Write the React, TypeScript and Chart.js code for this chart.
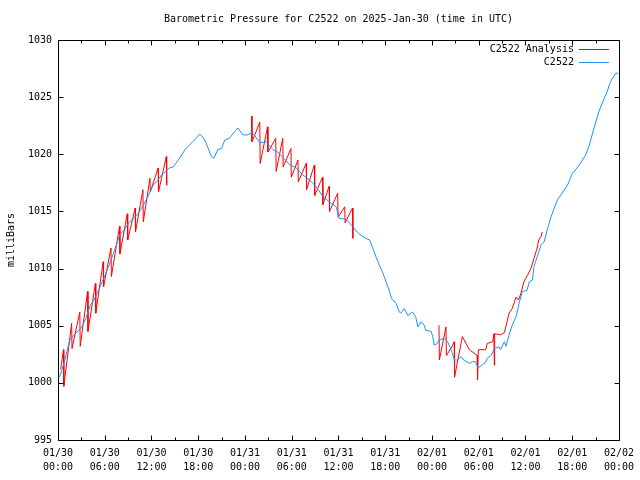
import React, { useEffect, useRef } from "react";
import { Chart, registerables } from "chart.js";

Chart.register(...registerables);

const chartTitle = "Barometric Pressure for C2522 on 2025-Jan-30 (time in UTC)";
const yAxisTitle = "milliBars";
const seriesLabels = ["C2522 Analysis", "C2522"];
const seriesColors = ["#ff0000", "#1e90ff"];

const tickDates = ["01/30", "01/30", "01/30", "01/30", "01/31", "01/31", "01/31", "01/31", "02/01", "02/01", "02/01", "02/01", "02/02"];
const tickTimes = ["00:00", "06:00", "12:00", "18:00", "00:00", "06:00", "12:00", "18:00", "00:00", "06:00", "12:00", "18:00", "00:00"];

// hours since 01/30 00:00 UTC
const stationHours = [
  0.2, 0.8, 1.5, 2.2, 3.0, 3.6, 4.1, 4.8, 5.4, 5.9, 6.4, 7.1, 7.9, 8.5, 9.2, 9.8, 10.3, 10.9, 11.4, 12.2,
  12.8, 13.3, 14.3, 14.8, 15.6, 16.3, 17.3, 18.2, 18.6, 19.0, 19.7, 20.0, 20.5, 21.0, 21.4, 22.0, 22.7, 23.1, 23.7, 24.4,
  24.9, 25.2, 25.9, 26.7, 27.2, 27.6, 28.2, 28.9, 29.7, 30.6, 31.4, 32.3, 33.1, 34.0, 34.8, 35.7, 36.1, 37.0, 37.8, 38.4,
  38.9, 39.5, 40.0, 40.4, 40.8, 41.25, 41.7, 42.1, 42.5, 42.8, 43.4, 43.8, 44.0, 44.45, 44.9, 45.5, 45.9, 46.2, 46.6, 47.0,
  47.2, 47.9, 48.1, 48.3, 48.7, 48.9, 49.6, 50.0, 50.4, 50.9, 51.3, 51.7, 52.1, 52.8, 53.2, 53.6, 53.9, 54.5, 54.9, 55.1,
  55.6, 56.0, 56.6, 56.8, 57.3, 57.5, 57.9, 58.3, 58.8, 59.2, 59.6, 60.2, 60.5, 60.9, 61.1, 61.5, 62.0, 62.4, 62.8, 63.3,
  63.7, 64.1, 64.7, 65.4, 66.0, 66.9, 67.3, 67.7, 68.2, 68.8, 69.4, 70.1, 70.5, 70.9, 71.6, 71.9,
];
const stationPressure = [
  1000.5, 1001.8, 1003.7, 1004.3, 1004.8, 1005.7, 1006.7, 1007.5, 1008.4, 1009.2, 1010.0, 1011.3, 1012.9, 1013.4, 1014.1, 1014.5, 1014.8, 1015.5, 1016.1, 1017.3,
  1017.7, 1018.2, 1018.8, 1018.9, 1019.65, 1020.4, 1021.1, 1021.75, 1021.5, 1021.0, 1019.8, 1019.65, 1020.4, 1020.5, 1021.25, 1021.4, 1022.0, 1022.3, 1021.7, 1021.7,
  1021.9, 1021.7, 1021.0, 1021.1, 1020.7, 1020.4, 1020.2, 1019.7, 1019.1, 1018.8, 1018.2, 1017.75, 1017.2, 1016.3, 1015.85, 1015.4, 1014.4, 1014.3, 1013.7, 1013.2,
  1012.9, 1012.65, 1012.5, 1011.8, 1011.05, 1010.3, 1009.6, 1008.85, 1008.1, 1007.4, 1006.95, 1006.2, 1006.1, 1006.5, 1005.9, 1006.2, 1005.8, 1004.9, 1005.35, 1005.05,
  1004.6, 1004.5, 1004.05, 1003.3, 1003.45, 1003.75, 1003.9, 1003.6, 1003.0, 1002.0, 1002.0, 1002.3, 1002.0, 1001.7, 1001.85, 1001.85, 1001.3, 1001.6, 1001.8, 1002.15,
  1002.4, 1003.0, 1003.15, 1002.9, 1003.6, 1003.2, 1004.2, 1005.05, 1005.8, 1007.0, 1008.0, 1008.1, 1008.85, 1009.0, 1010.2, 1011.0, 1012.1, 1012.35, 1013.4, 1014.55,
  1015.3, 1016.0, 1016.6, 1017.3, 1018.3, 1019.05, 1019.5, 1019.9, 1020.8, 1022.3, 1023.7, 1024.9, 1025.5, 1026.35, 1027.1, 1027.1,
];

const analysisHours = [
  0.35, 0.7, 0.75, 1.75, 1.8, 2.8, 2.85, 3.8, 3.85, 4.8, 4.85, 5.8, 5.85, 6.8, 6.85, 7.9, 7.95, 8.9, 8.95, 9.9,
  9.95, 10.9, 10.95, 11.8, 11.85, 12.85, 12.9, 13.9, 13.95,
  19.0,
  24.85, 24.9, 25.9, 25.95, 26.9, 26.95, 27.95, 28.0, 28.85, 28.9, 29.9, 29.95, 30.8, 30.85, 31.85, 31.9, 32.9, 32.95, 33.95, 34.0,
  34.8, 34.85, 35.9, 35.95, 36.8, 36.85, 37.8, 37.85,
  44.0,
  48.9, 48.95, 49.8, 49.85, 50.6, 50.85, 50.9, 51.9, 52.8, 53.8, 53.85, 53.95, 54.9, 55.1, 55.8, 55.95, 56.0, 56.05, 56.8, 57.3,
  57.9, 58.3, 58.8, 59.1, 59.4, 59.8, 60.25, 60.7, 61.1, 61.5, 61.7, 62.0, 62.15,
];
const analysisPressure = [
  1001.2, 1002.9, 999.7, 1005.2, 1003.0, 1006.2, 1003.2, 1008.0, 1004.5, 1008.7, 1006.1, 1010.6, 1008.4, 1011.8, 1009.3, 1013.7, 1011.3, 1014.8, 1012.5, 1015.3,
  1013.2, 1016.9, 1014.1, 1017.9, 1016.7, 1018.8, 1016.7, 1019.8, 1017.3,
  null,
  1023.35, 1021.1, 1022.8, 1019.2, 1022.4, 1020.2, 1021.4, 1018.5, 1021.4, 1018.9, 1020.5, 1018.0, 1019.5, 1017.6, 1019.2, 1016.9, 1019.05, 1016.4, 1018.0, 1015.6,
  1017.2, 1015.0, 1016.6, 1014.5, 1015.4, 1014.0, 1015.3, 1012.65,
  null,
  1005.05, 1002.0, 1004.9, 1002.4, 1003.2, 1003.6, 1000.5, 1004.05, 1002.9, 1002.4, 1000.25, 1002.9, 1002.9, 1003.45, 1003.6, 1004.3, 1001.55, 1004.3, 1004.2, 1004.4,
  1006.1, 1006.5, 1007.5, 1007.25, 1007.8, 1008.85, 1009.4, 1010.0, 1010.9, 1011.8, 1012.5, 1012.8, 1013.2,
];

const FONT = "DejaVu Sans Mono";

const gnuplotFrame = {
  id: "gnuplotFrame",
  afterDatasetsDraw(chart: any) {
    const { ctx, chartArea: a, scales } = chart;
    const xs = scales.x;
    const ys = scales.y;
    ctx.save();
    ctx.strokeStyle = "#000";
    ctx.lineWidth = 1;
    ctx.beginPath();
    const L = Math.round(a.left) + 0.5;
    const R = Math.round(a.right) + 0.5;
    const T = Math.round(a.top) + 0.5;
    const B = Math.round(a.bottom) + 0.5;
    ctx.moveTo(L, T);
    ctx.lineTo(R, T);
    ctx.lineTo(R, B);
    ctx.lineTo(L, B);
    ctx.closePath();
    for (let v = xs.min; v <= xs.max + 0.001; v += 3) {
      const px = Math.round(xs.getPixelForValue(v)) + 0.5;
      const len = v % 6 === 0 ? 5 : 3;
      ctx.moveTo(px, B);
      ctx.lineTo(px, B - len);
      ctx.moveTo(px, T);
      ctx.lineTo(px, T + len);
    }
    ys.ticks.forEach((t: any) => {
      const py = Math.round(ys.getPixelForValue(t.value)) + 0.5;
      ctx.moveTo(L, py);
      ctx.lineTo(L + 5, py);
      ctx.moveTo(R, py);
      ctx.lineTo(R - 5, py);
    });
    ctx.stroke();

    // title
    ctx.fillStyle = "#000";
    ctx.font = `10px "${FONT}"`;
    ctx.textAlign = "center";
    ctx.textBaseline = "middle";
    ctx.fillText(chartTitle, (a.left + a.right) / 2, 19);

    // legend (gnuplot style: text then sample line)
    const order = [1, 0];
    order.forEach((di, row) => {
      const ds = chart.data.datasets[di];
      const y = Math.round(a.top + 9 + row * 13) + 0.5;
      ctx.textAlign = "right";
      ctx.fillStyle = "#000";
      ctx.fillText(ds.label, a.right - 45, y);
      ctx.strokeStyle = ds.borderColor;
      ctx.beginPath();
      ctx.moveTo(a.right - 40, y);
      ctx.lineTo(a.right - 10, y);
      ctx.stroke();
    });
    ctx.restore();
  },
};

export default function App() {
  const ref = useRef<HTMLCanvasElement | null>(null);

  useEffect(() => {
    if (!ref.current) return;
    const chart = new Chart(ref.current, {
      type: "line",
      data: {
        datasets: [
          {
            label: seriesLabels[1],
            data: stationHours.map((h, i) => ({ x: h, y: stationPressure[i] })),
            borderColor: seriesColors[1],
            backgroundColor: seriesColors[1],
            borderWidth: 1,
            pointRadius: 0,
            tension: 0,
            fill: false,
          },
          {
            label: seriesLabels[0],
            data: analysisHours.map((h, i) => ({ x: h, y: analysisPressure[i] })),
            borderColor: seriesColors[0],
            backgroundColor: seriesColors[0],
            borderWidth: 1,
            pointRadius: 0,
            tension: 0,
            fill: false,
            spanGaps: false,
          },
        ],
      },
      plugins: [gnuplotFrame],
      options: {
        responsive: false,
        animation: false,
        events: [],
        layout: { padding: { top: 40, right: 19, left: 0, bottom: 0 } },
        plugins: {
          legend: { display: false },
          title: { display: false },
          tooltip: { enabled: false },
        },
        scales: {
          x: {
            type: "linear",
            min: 0,
            max: 72,
            afterFit: (s: any) => {
              s.height = 40;
            },
            grid: { display: false, drawTicks: false },
            border: { display: false },
            ticks: {
              stepSize: 6,
              autoSkip: false,
              maxRotation: 0,
              padding: 6,
              color: "#000",
              font: { family: FONT, size: 10, lineHeight: 1.4 },
              callback: (v: any) => {
                const i = Math.round(Number(v) / 6);
                return [tickDates[i], tickTimes[i]];
              },
            },
          },
          y: {
            type: "linear",
            min: 995,
            max: 1030,
            afterFit: (s: any) => {
              s.width = 58;
            },
            grid: { display: false, drawTicks: false },
            border: { display: false },
            title: {
              display: true,
              text: yAxisTitle,
              color: "#000",
              font: { family: FONT, size: 10 },
              padding: { top: 5, bottom: 0 },
            },
            ticks: {
              stepSize: 5,
              padding: 6,
              color: "#000",
              font: { family: FONT, size: 10 },
              callback: (v: any) => String(Math.round(Number(v))),
            },
          },
        },
      },
    });
    return () => chart.destroy();
  }, []);

  return (
    <div style={{ position: "absolute", left: 0, top: 0, width: 640, height: 480, background: "#fff" }}>
      <canvas ref={ref} width={640} height={480} />
    </div>
  );
}
